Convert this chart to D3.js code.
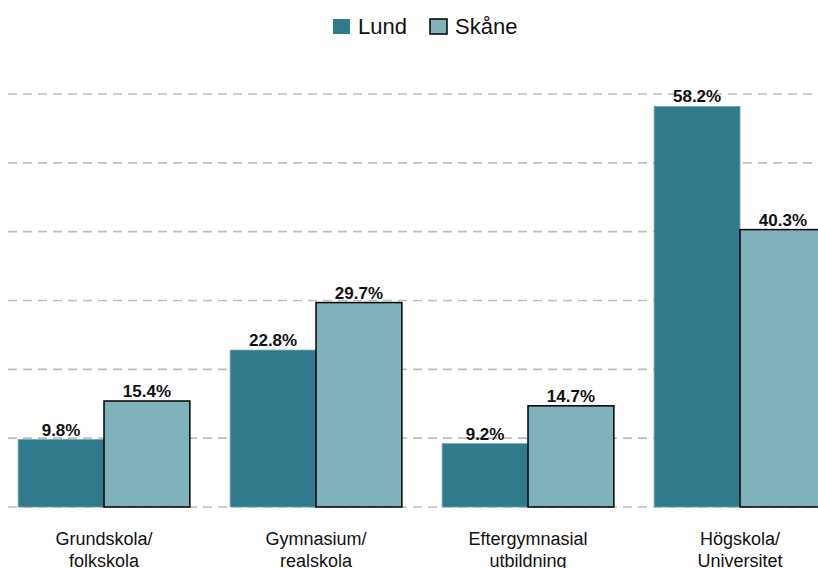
<!DOCTYPE html>
<html>
<head>
<meta charset="utf-8">
<script src="https://cdn.jsdelivr.net/npm/d3@7"></script>
<style>
  body { margin: 0; background: #fff; }
  svg { display: block; font-family: "Liberation Sans", Arial, sans-serif; }
</style>
</head>
<body>
<svg id="chart" width="818" height="568"></svg>
<script>
var categories = [["Grundskola/", "folkskola"], ["Gymnasium/", "realskola"], ["Eftergymnasial", "utbildning"], ["Högskola/", "Universitet"]];
var seriesNames = ["Lund", "Skåne"];
var lund = [9.8, 22.8, 9.2, 58.2];
var skane = [15.4, 29.7, 14.7, 40.3];
var yTicks = [0, 10, 20, 30, 40, 50, 60];

var colors = { "Lund": "#2f7a8c", "Skåne": "#7fb2bb" };
var strokes = { "Lund": "#6fa2ae", "Skåne": "#000" };
var strokeW = { "Lund": 0.8, "Skåne": 1.5 };

var svg = d3.select("#chart");

var data = categories.map(function (c, i) {
    return { key: c.join(" "), lines: c, values: [
        { name: "Lund", value: lund[i] },
        { name: "Skåne", value: skane[i] }
    ]};
});

var x0 = d3.scaleBand()
    .domain(data.map(function (d) { return d.key; }))
    .range([-2, 846])
    .paddingInner(0.19)
    .paddingOuter(0.095);

var x1 = d3.scaleBand()
    .domain(seriesNames)
    .range([0, x0.bandwidth()]);

var y = d3.scaleLinear()
    .domain([0, 60])
    .range([507, 94]);

// gridlines
svg.append("g")
    .selectAll("line")
    .data(yTicks)
    .enter().append("line")
    .attr("x1", 8)
    .attr("x2", 818)
    .attr("y1", function (d) { return y(d); })
    .attr("y2", function (d) { return y(d); })
    .attr("stroke", "#bdbdbd")
    .attr("stroke-width", 1.6)
    .attr("stroke-dasharray", "9,6");

var groups = svg.append("g")
    .selectAll("g")
    .data(data)
    .enter().append("g")
    .attr("transform", function (d) { return "translate(" + x0(d.key) + ",0)"; });

groups.selectAll("rect")
    .data(function (d) { return d.values; })
    .enter().append("rect")
    .attr("x", function (d) { return x1(d.name); })
    .attr("y", function (d) { return y(d.value); })
    .attr("width", x1.bandwidth())
    .attr("height", function (d) { return y(0) - y(d.value); })
    .attr("fill", function (d) { return colors[d.name]; })
    .attr("stroke", function (d) { return strokes[d.name]; })
    .attr("stroke-width", function (d) { return strokeW[d.name]; });

groups.selectAll("text.val")
    .data(function (d) { return d.values; })
    .enter().append("text")
    .attr("class", "val")
    .attr("x", function (d) { return x1(d.name) + x1.bandwidth() / 2; })
    .attr("y", function (d) { return y(d.value) - 4; })
    .attr("text-anchor", "middle")
    .attr("font-size", "17px")
    .attr("font-weight", "bold")
    .attr("fill", "#111")
    .text(function (d) { return d.value.toFixed(1) + "%"; });

// category labels
var catLabels = svg.append("g")
    .selectAll("text")
    .data(data)
    .enter().append("text")
    .attr("x", function (d) { return x0(d.key) + x0.bandwidth() / 2; })
    .attr("y", 545)
    .attr("text-anchor", "middle")
    .attr("font-size", "18px")
    .attr("fill", "#111");

catLabels.selectAll("tspan")
    .data(function (d) { return d.lines; })
    .enter().append("tspan")
    .attr("x", function () { return d3.select(this.parentNode).attr("x"); })
    .attr("dy", function (d, i) { return i === 0 ? 0 : 22; })
    .text(function (d) { return d; });

// legend
var legendItems = [
    { name: "Lund", x: 333, tx: 358 },
    { name: "Skåne", x: 430, tx: 455 }
];
var legend = svg.append("g");
legend.selectAll("rect")
    .data(legendItems)
    .enter().append("rect")
    .attr("x", function (d) { return d.x; })
    .attr("y", 19)
    .attr("width", 17)
    .attr("height", 15)
    .attr("fill", function (d) { return colors[d.name]; })
    .attr("stroke", function (d) { return d.name === "Skåne" ? "#000" : "none"; })
    .attr("stroke-width", 1.5);
legend.selectAll("text")
    .data(legendItems)
    .enter().append("text")
    .attr("x", function (d) { return d.tx; })
    .attr("y", 34)
    .attr("font-size", "22px")
    .attr("fill", "#111")
    .text(function (d) { return d.name; });
</script>
</body>
</html>
